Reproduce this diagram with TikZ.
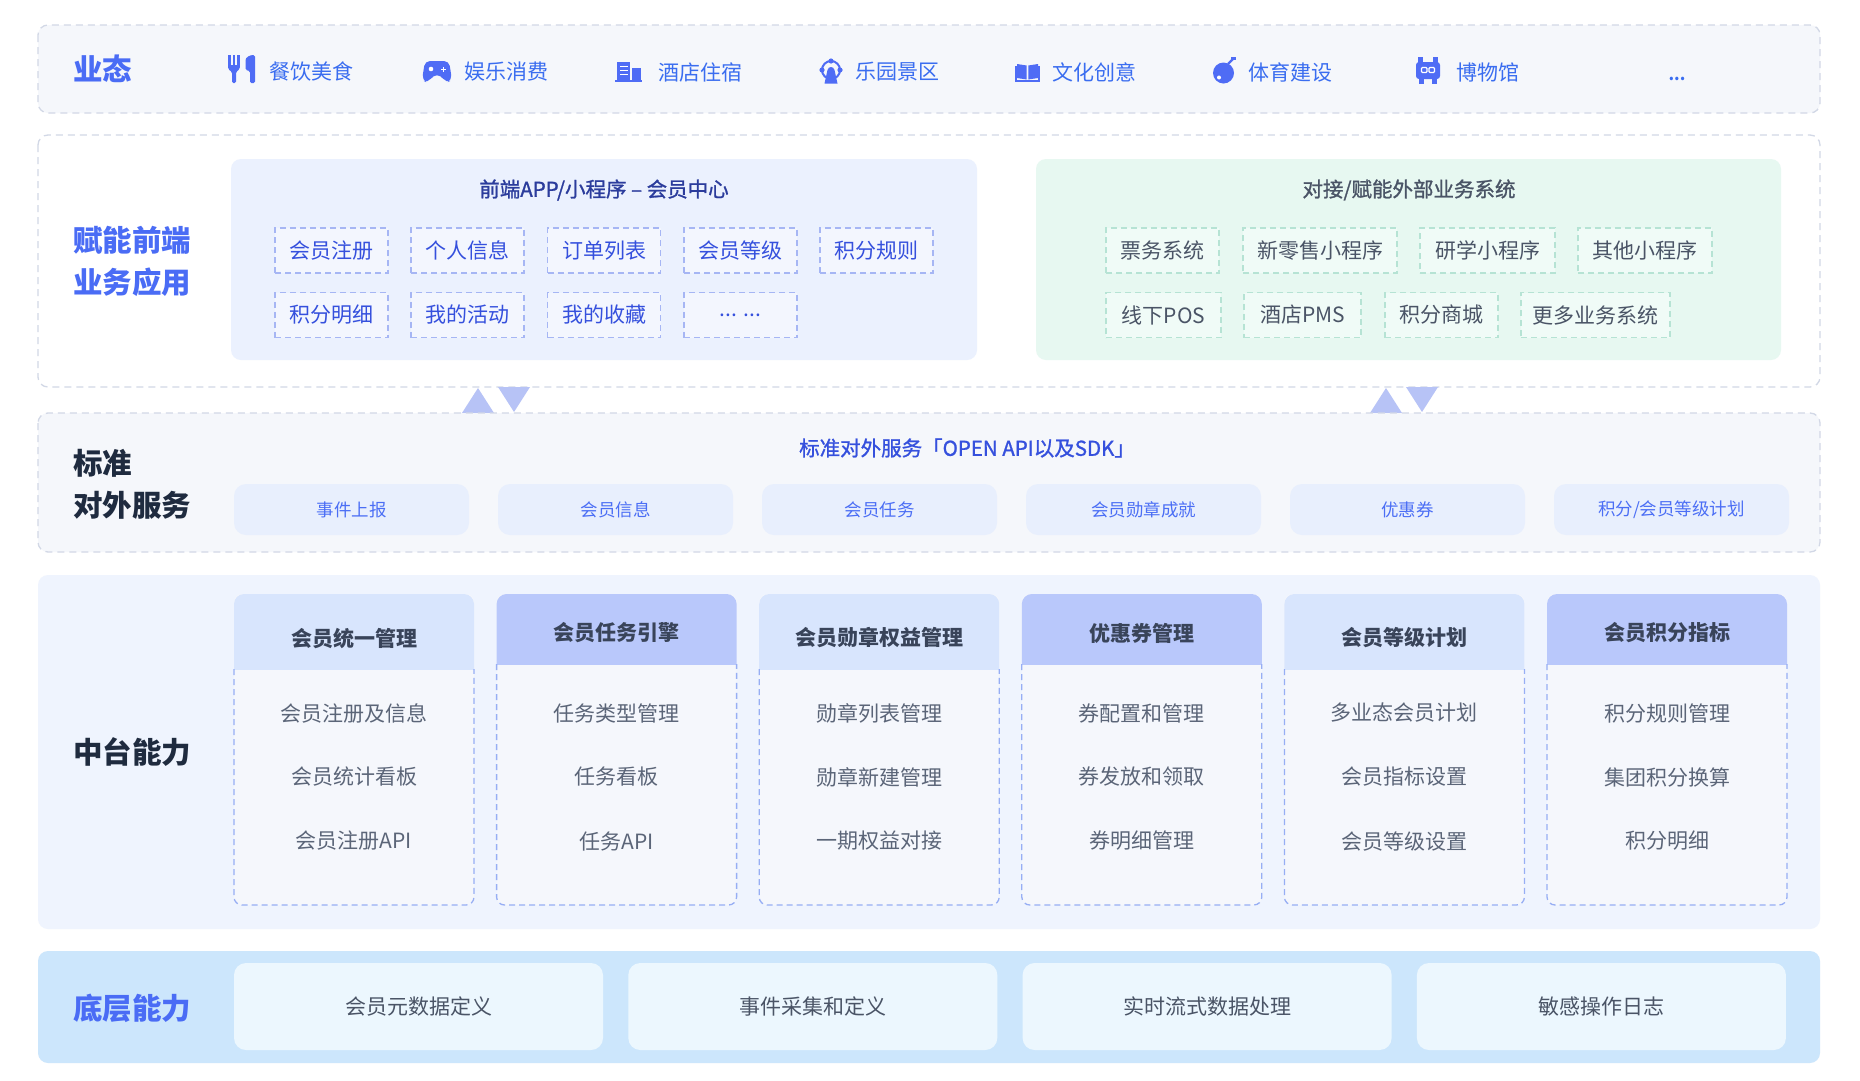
\documentclass[tikz,border=0pt]{standalone}
\usepackage{fontspec}
\setmainfont{Noto Sans CJK SC}
\newfontfamily\mediumfont[FakeBold=1.2]{Noto Sans CJK SC}
\definecolor{rowgray}{HTML}{F5F7FB}
\definecolor{rowline}{HTML}{D2D8E6}
\definecolor{bluepanel}{HTML}{EBF1FE}
\definecolor{blueitem}{HTML}{F3F6FE}
\definecolor{blueitemline}{HTML}{A6B6F4}
\definecolor{bluetext}{HTML}{3550DD}
\definecolor{navy}{HTML}{2B3C9C}
\definecolor{greenpanel}{HTML}{E7F8F1}
\definecolor{greenitem}{HTML}{F0FBF7}
\definecolor{greenline}{HTML}{B6E3D4}
\definecolor{graytext}{HTML}{4A5466}
\definecolor{tri}{HTML}{B7C3F6}
\definecolor{pillfill}{HTML}{E8EFFD}
\definecolor{pilltext}{HTML}{4B6EF5}
\definecolor{midbg}{HTML}{EFF4FE}
\definecolor{hdrlight}{HTML}{D8E5FD}
\definecolor{hdrdark}{HTML}{B9C8FB}
\definecolor{colbody}{HTML}{F5F7FC}
\definecolor{colline}{HTML}{97AEF4}
\definecolor{hdrtext}{HTML}{39445A}
\definecolor{itemtext}{HTML}{5B6578}
\definecolor{basebg}{HTML}{CCE6FC}
\definecolor{basebox}{HTML}{ECF7FE}
\definecolor{titleblue}{HTML}{4A6CF5}
\definecolor{titledark}{HTML}{1F2B3F}
\definecolor{iconblue}{HTML}{4F6CF5}
\definecolor{sectext}{HTML}{3A6DF0}
\tikzset{
  rowbox/.style={draw=rowline, line width=1.3pt, dash pattern=on 7pt off 5pt, rounded corners=10pt},
  ttlblue/.style={anchor=west, inner sep=0pt, align=left, text=titleblue, font=\fontsize{29.5}{42}\selectfont\bfseries},
  ttldark/.style={anchor=west, inner sep=0pt, align=left, text=titledark, font=\fontsize{29.5}{42}\selectfont\bfseries},
  secitem/.style={anchor=west, inner sep=0pt, text=sectext, font=\fontsize{21}{24}\selectfont},
  icon/.style={fill=iconblue},
  bitem/.style={draw=blueitemline, fill=blueitem, line width=1.2pt, dash pattern=on 6pt off 4pt,
     minimum width=113pt, minimum height=45pt, inner sep=0pt, text=bluetext, font=\fontsize{21}{24}\selectfont},
  gitem/.style={draw=greenline, fill=greenitem, line width=1.2pt, dash pattern=on 6pt off 4pt,
     minimum height=45pt, inner sep=0pt, text=graytext, font=\fontsize{21}{24}\selectfont},
  pillbox/.style={fill=pillfill, rounded corners=12pt, minimum width=235pt, minimum height=51pt,
     inner sep=0pt, text=pilltext, font=\fontsize{17.5}{21}\selectfont},
  hdrlbl/.style={inner sep=0pt, text=hdrtext, font=\fontsize{21}{24}\selectfont\bfseries},
  collbl/.style={inner sep=0pt, text=itemtext, font=\fontsize{21}{24}\selectfont},
  basecell/.style={fill=basebox, rounded corners=12pt, minimum width=369pt, minimum height=87pt,
     inner sep=0pt, text=graytext, font=\fontsize{21}{24}\selectfont},
}
\begin{document}
\begin{tikzpicture}[x=1pt,y=-1pt]
\useasboundingbox (0,0) rectangle (1860,1080);
\fill[white] (0,0) rectangle (1860,1080);

% ---------------- Row 1: 业态 ----------------
\draw[rowbox, fill=rowgray] (38,25) rectangle (1820,113);
\node[ttlblue] (t1) at (73,69) {业态};
% fork & knife
\fill[icon] (228,55) rectangle (230.6,67);
\fill[icon] (232.6,55) rectangle (235.2,67);
\fill[icon] (237.2,55) rectangle (239.8,67);
\fill[icon, rounded corners=1.5pt] (228,65) -- (239.8,65) -- (239.8,69) -- (236,72) -- (236,83) -- (232,83) -- (232,72) -- (228,69) -- cycle;
\fill[icon, rounded corners=1.5pt] (250,83) -- (250,71) -- (245.5,70) -- (245.5,62) .. controls (245.5,57) and (250,55) .. (255,55) -- (255,83) -- cycle;
% gamepad
\fill[icon, rounded corners=5pt] (422,80) -- (425,61) -- (449,61) -- (452,80) -- (446,83) -- (441,75) -- (433,75) -- (428,83) -- cycle;
\fill[white] (431,69) circle (2.3);
\fill[white] (440.5,68.5) rectangle (445.5,69.5);
\fill[white] (442.5,66.5) rectangle (443.5,71.5);
% building
\fill[icon] (617,62) rectangle (630,80);
\fill[white] (619.5,66) rectangle (627.5,67.3);
\fill[white] (619.5,70) rectangle (627.5,71.3);
\fill[white] (619.5,74) rectangle (627.5,75.3);
\fill[icon] (632,68) rectangle (641,80);
\fill[icon] (615,80) rectangle (642,82);
% park
\draw[iconblue, line width=2pt] (831,70) circle (9);
\fill[icon] (831,61) circle (2.6);
\fill[icon] (822,70) circle (2.6);
\fill[icon] (840,70) circle (2.6);
\fill[icon] (824.5,83.5) -- (827.5,70) .. controls (828.5,66) and (833.5,66) .. (834.5,70) -- (837.5,83.5) -- cycle;
% book
\fill[icon] (1017,64) -- (1026.7,65.5) -- (1026.7,79.5) -- (1017,78) -- cycle;
\fill[icon] (1038,64) -- (1028.3,65.5) -- (1028.3,79.5) -- (1038,78) -- cycle;
\draw[iconblue, line width=1.4pt] (1016,66) -- (1016,81) -- (1039,81) -- (1039,66);
% ball
\fill[icon] (1223.5,73) circle (10.5);
\draw[iconblue, line width=2.2pt] (1228,64) -- (1233.5,58.5);
\fill[icon] (1231,57) rectangle (1236,60);
\fill[white] (1219,77.5) circle (2);
% robot
\fill[icon, rounded corners=3pt] (1416,62) rectangle (1440,79);
\fill[icon] (1418,57) rectangle (1423,63);
\fill[icon] (1433,57) rectangle (1438,63);
\fill[icon] (1419,78) rectangle (1424,84);
\fill[icon] (1432,78) rectangle (1437,84);
\draw[white, line width=1.1pt, rounded corners=1pt] (1421.5,67.5) rectangle (1427,72.5);
\draw[white, line width=1.1pt, rounded corners=1pt] (1429,67.5) rectangle (1434.5,72.5);
% labels
\node[secitem] (s1) at (269,72) {餐饮美食};
\node[secitem] (s2) at (464,72) {娱乐消费};
\node[secitem] (s3) at (658,72) {酒店住宿};
\node[secitem] (s4) at (855,72) {乐园景区};
\node[secitem] (s5) at (1052,72) {文化创意};
\node[secitem] (s6) at (1248,72) {体育建设};
\node[secitem] (s7) at (1456,72) {博物馆};
\node[anchor=base, inner sep=0pt, text=sectext, font=\fontsize{16}{18}\selectfont\bfseries] (s8) at (1677,80) {...};

% ---------------- Row 2: 赋能前端业务应用 ----------------
\draw[rowbox] (38,135) rectangle (1820,387);
\node[ttlblue] (t2) at (73,261) {赋能前端\\业务应用};
\fill[bluepanel, rounded corners=10pt] (231,159) rectangle (977,360);
\node[inner sep=0pt, text=navy, font=\fontsize{20.5}{24}\mediumfont] (bp) at (604,190) {前端APP/小程序 – 会员中心};
\node[bitem] (b1) at (331.5,250.5) {会员注册};
\node[bitem] (b2) at (467.5,250.5) {个人信息};
\node[bitem] (b3) at (604,250.5) {订单列表};
\node[bitem] (b4) at (740.5,250.5) {会员等级};
\node[bitem] (b5) at (876.5,250.5) {积分规则};
\node[bitem] (b6) at (331.5,315) {积分明细};
\node[bitem] (b7) at (467.5,315) {我的活动};
\node[bitem] (b8) at (604,315) {我的收藏};
\node[bitem] (b9) at (740.5,315) {... ...};

\fill[greenpanel, rounded corners=10pt] (1036,159) rectangle (1781,360);
\node[inner sep=0pt, text=graytext, font=\fontsize{20.5}{24}\mediumfont] (gp) at (1409,190) {对接/赋能外部业务系统};
\node[gitem, minimum width=113pt] (g1) at (1162.5,250.5) {票务系统};
\node[gitem, minimum width=154pt] (g2) at (1320,250.5) {新零售小程序};
\node[gitem, minimum width=135pt] (g3) at (1487.5,250.5) {研学小程序};
\node[gitem, minimum width=134pt] (g4) at (1645,250.5) {其他小程序};
\node[gitem, minimum width=115pt] (g5) at (1163.5,315) {线下POS};
\node[gitem, minimum width=117pt] (g6) at (1302.5,315) {酒店PMS};
\node[gitem, minimum width=113pt] (g7) at (1441.5,315) {积分商城};
\node[gitem, minimum width=149pt] (g8) at (1595.5,315) {更多业务系统};

% ---------------- arrows ----------------
\fill[tri] (478,388) -- (494,413) -- (462,413) -- cycle;
\fill[tri] (498,387) -- (530,387) -- (514,412) -- cycle;
\fill[tri] (1386,388) -- (1402,413) -- (1370,413) -- cycle;
\fill[tri] (1406,387) -- (1438,387) -- (1422,412) -- cycle;

% ---------------- Row 3: 标准对外服务 ----------------
\draw[rowbox, fill=rowgray] (38,413) rectangle (1820,552);
\node[ttldark] (t3) at (73,484) {标准\\对外服务};
\node[inner sep=0pt, text=bluetext, font=\fontsize{20.5}{24}\mediumfont] (api) at (967,448) {标准对外服务「OPEN API以及SDK」};
\node[pillbox] (p1) at (351.5,509.5) {事件上报};
\node[pillbox] (p2) at (615.5,509.5) {会员信息};
\node[pillbox] (p3) at (879.5,509.5) {会员任务};
\node[pillbox] (p4) at (1143.5,509.5) {会员勋章成就};
\node[pillbox] (p5) at (1407.5,509.5) {优惠券};
\node[pillbox] (p6) at (1671.5,509.5) {积分/会员等级计划};

% ---------------- Row 4: 中台能力 ----------------
\fill[midbg, rounded corners=10pt] (38,575) rectangle (1820,929);
\node[ttldark] (t4) at (73,752) {中台能力};
\foreach \i/\h/\a/\b/\c/\hc/\hb/\ty in {
  0/会员统一管理/会员注册及信息/会员统计看板/会员注册API/hdrlight/669/638,
  1/会员任务引擎/任务类型管理/任务看板/任务API/hdrdark/664/633,
  2/会员勋章权益管理/勋章列表管理/勋章新建管理/一期权益对接/hdrlight/669/638,
  3/优惠券管理/券配置和管理/券发放和领取/券明细管理/hdrdark/664/633,
  4/会员等级计划/多业态会员计划/会员指标设置/会员等级设置/hdrlight/669/638,
  5/会员积分指标/积分规则管理/集团积分换算/积分明细/hdrdark/664/633}{
  \pgfmathsetmacro\cx{234+262.6*\i}
  \pgfmathsetmacro\cr{\cx+240}
  \pgfmathsetmacro\cm{\cx+120}
  \fill[colbody, rounded corners=8pt] (\cx,594) rectangle (\cr,905);
  \begin{scope}
    \clip (\cx,594) rectangle (\cr,\hb);
    \fill[\hc, rounded corners=10pt] (\cx,594) rectangle (\cr,\hb+20);
  \end{scope}
  \draw[colline, line width=1.3pt, dash pattern=on 6pt off 4pt, rounded corners=8pt]
     (\cx,\hb) -- (\cx,905) -- (\cr,905) -- (\cr,\hb);
  \node[hdrlbl] (h\i) at (\cm,\ty) {\h};
  \node[collbl] (a\i) at (\cm,713) {\a};
  \node[collbl] (b\i) at (\cm,777) {\b};
  \node[collbl] (c\i) at (\cm,841) {\c};
}

% ---------------- Row 5: 底层能力 ----------------
\fill[basebg, rounded corners=10pt] (38,951) rectangle (1820,1063);
\node[ttlblue] (t5) at (73,1008) {底层能力};
\node[basecell] (d1) at (418.5,1006.5) {会员元数据定义};
\node[basecell] (d2) at (812.8,1006.5) {事件采集和定义};
\node[basecell] (d3) at (1207.1,1006.5) {实时流式数据处理};
\node[basecell] (d4) at (1601.4,1006.5) {敏感操作日志};
\end{tikzpicture}
\end{document}
